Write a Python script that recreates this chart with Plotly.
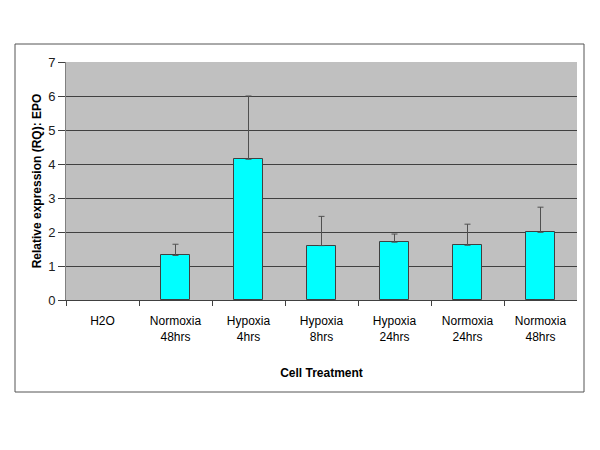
import plotly.graph_objects as go

categories = ["H2O<br> ", "Normoxia<br>48hrs", "Hypoxia<br>4hrs", "Hypoxia<br>8hrs",
              "Hypoxia<br>24hrs", "Normoxia<br>24hrs", "Normoxia<br>48hrs"]
rq_values = [None, 1.31, 4.14, 1.60, 1.70, 1.61, 1.99]
rq_error_up = [None, 0.33, 1.86, 0.86, 0.24, 0.62, 0.74]
y_ticks = [0, 1, 2, 3, 4, 5, 6, 7]

positions = list(range(len(categories)))

fig = go.Figure()
fig.add_trace(go.Bar(
    x=positions,
    y=rq_values,
    width=0.41,
    marker=dict(color="#00FFFF", line=dict(color="#404040", width=1)),
    error_y=dict(type="data", symmetric=False, array=rq_error_up,
                 arrayminus=[0] * len(rq_values),
                 color="#505050", thickness=1, width=3, visible=True),
    showlegend=False,
))

OFF = 8  # page offset of the figure (body margin)
W, H = 600, 450
# plot area in page pixel coordinates
PX0, PX1, PY0, PY1 = 66, 577, 62, 300
L = PX0 - OFF
T = PY0 - OFF
R = W - (PX1 - OFF)
B = H - (PY1 - OFF)
pw, ph = PX1 - PX0, PY1 - PY0

def px_x(p):
    return (p - PX0) / pw

def px_y(p):
    return (PY1 - p) / ph

fig.add_shape(type="rect", xref="paper", yref="paper",
              x0=px_x(15), x1=px_x(584), y0=px_y(392), y1=px_y(44),
              line=dict(color="#555555", width=1), fillcolor="rgba(0,0,0,0)",
              layer="below")

fig.update_layout(
    width=W, height=H,
    margin=dict(l=L, r=R, t=T, b=B),
    paper_bgcolor="white",
    plot_bgcolor="#C0C0C0",
    font=dict(family="Liberation Sans, Arial, sans-serif", size=12, color="#000000"),
    bargap=0,
)

fig.update_xaxes(
    range=[-0.5, 6.5],
    tickmode="array", tickvals=positions, ticktext=categories,
    ticks="", showgrid=False,
    showline=True, linecolor="#404040", linewidth=1,
    tickfont=dict(size=12, color="#000000"),
    ticklabelstandoff=10,
    minor=dict(tickmode="array", tickvals=[-0.5, 0.5, 1.5, 2.5, 3.5, 4.5, 5.5],
               ticks="outside", ticklen=5, tickcolor="#404040", showgrid=False),
    title=dict(text="<b>Cell Treatment</b>", font=dict(size=12), standoff=25),
    zeroline=False,
)

fig.update_yaxes(
    range=[0, 7],
    tickmode="array", tickvals=y_ticks,
    ticks="outside", ticklen=7, tickcolor="#404040",
    showgrid=False,
    showline=True, linecolor="#808080", linewidth=1,
    tickfont=dict(size=13, color="#202020"),
    minor=dict(tickmode="array", tickvals=[1, 2, 3, 4, 5, 6], showgrid=True,
               gridcolor="#404040", gridwidth=1, ticks=""),
    title=dict(text="<b>Relative expression (RQ): EPO</b>", font=dict(size=12), standoff=3),
    zeroline=False,
)

fig.write_html("out.html")
